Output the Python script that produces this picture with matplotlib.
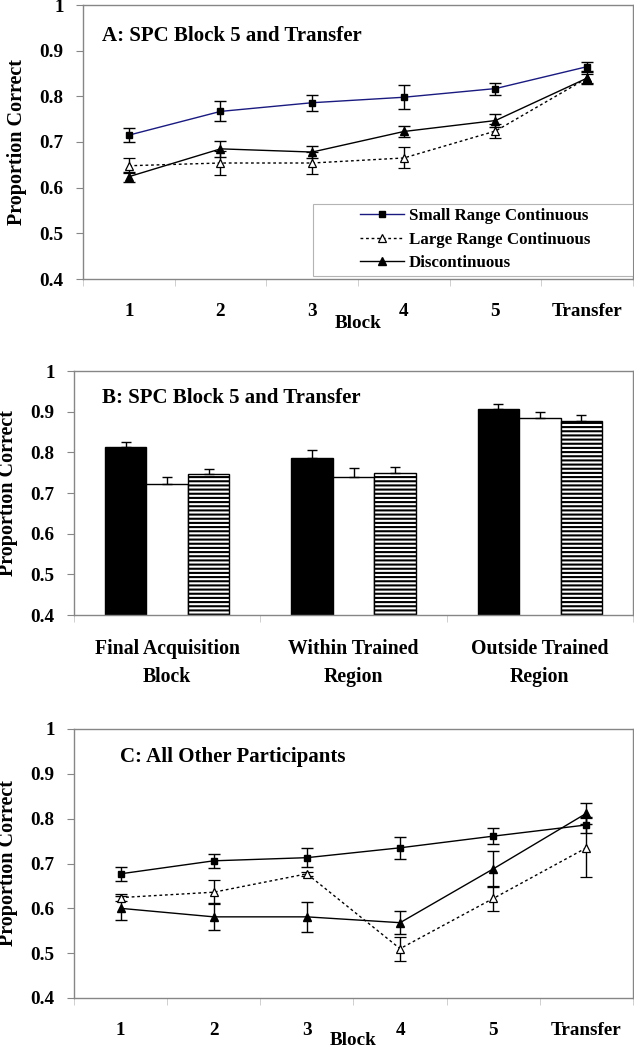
import matplotlib
matplotlib.use('Agg')
import matplotlib.pyplot as plt
import numpy as np
from matplotlib.patches import Rectangle
from matplotlib.lines import Line2D

plt.rcParams['font.family'] = ['Liberation Serif', 'DejaVu Serif']
plt.rcParams['font.weight'] = 'bold'
plt.rcParams['axes.labelweight'] = 'bold'
plt.rcParams['hatch.linewidth'] = 1.5

# panel A: SPC participants, line chart over blocks
blocks = ['1', '2', '3', '4', '5', 'Transfer']
small_a = [0.715, 0.767, 0.786, 0.798, 0.817, 0.865]
small_a_err = [0.015, 0.022, 0.018, 0.026, 0.013, 0.010]
large_a = [0.648, 0.654, 0.654, 0.665, 0.724, 0.840]
large_a_err = [0.016, 0.027, 0.025, 0.023, 0.016, 0.010]
disc_a = [0.624, 0.685, 0.678, 0.723, 0.747, 0.840]
disc_a_err = [0.011, 0.017, 0.013, 0.012, 0.014, 0.013]

# panel B: bar chart, final block vs transfer regions
regions = ['Final Acquisition\nBlock', 'Within Trained\nRegion', 'Outside Trained\nRegion']
small_b = [0.813, 0.785, 0.907]
small_b_err = [0.013, 0.020, 0.011]
large_b = [0.721, 0.739, 0.885]
large_b_err = [0.019, 0.023, 0.015]
disc_b = [0.746, 0.749, 0.878]
disc_b_err = [0.013, 0.016, 0.014]

# panel C: all other participants
small_c = [0.677, 0.706, 0.713, 0.735, 0.761, 0.786]
small_c_err = [0.016, 0.015, 0.021, 0.025, 0.018, 0.017]
large_c = [0.624, 0.636, 0.677, 0.510, 0.622, 0.735]
large_c_err = [0.007, 0.027, 0.004, 0.027, 0.028, 0.066]
disc_c = [0.600, 0.581, 0.581, 0.568, 0.688, 0.812]
disc_c_err = [0.027, 0.030, 0.034, 0.025, 0.040, 0.024]

legend_names = ['Small Range Continuous', 'Large Range Continuous', 'Discontinuous']
yticks = [0.4, 0.5, 0.6, 0.7, 0.8, 0.9, 1.0]
ytick_labels = ['0.4', '0.5', '0.6', '0.7', '0.8', '0.9', '1']

W, H = 634, 1047
GREY = '#868686'
NAVY = '#1a1a80'
DOTS = (0, (2, 2))


def px_axes(fig, left, top, right, bottom):
    return fig.add_axes([left / W, 1 - bottom / H, (right - left) / W, (bottom - top) / H])


def style_axes(ax, ncat, labels, label_size=13.8, spacing=1.2):
    ax.set_ylim(0.4, 1.0)
    ax.set_xlim(-0.5, ncat - 0.5)
    for s in ax.spines.values():
        s.set_color(GREY)
        s.set_linewidth(1.0)
    ax.set_yticks(yticks)
    ax.set_yticklabels(ytick_labels, fontsize=13.8)
    ax.tick_params(axis='y', direction='out', length=5, color=GREY, pad=9)
    ax.set_xticks(np.arange(ncat))
    ax.set_xticklabels(labels, fontsize=label_size, linespacing=spacing)
    ax.tick_params(axis='x', which='major', length=0, pad=17)
    ax.set_xticks(np.arange(ncat + 1) - 0.5, minor=True)
    ax.tick_params(axis='x', which='minor', direction='out', length=5, color='#c8c8c8')
    ax.set_ylabel('Proportion Correct', fontsize=14.5, fontweight='bold')


def line_panel(ax, small, small_err, large, large_err, disc, disc_err, small_color):
    x = np.arange(len(blocks))
    ebkw = dict(ecolor='black', elinewidth=1.0, capsize=4, capthick=1.0)
    ax.errorbar(x, large, yerr=large_err, color='black', lw=1.0, ls=DOTS,
                marker='^', ms=6, mfc='white', mec='black', mew=0.9, **ebkw)
    ax.errorbar(x, disc, yerr=disc_err, color='black', lw=1.0, marker='^', ms=6,
                mfc='black', mec='black', **ebkw)
    ax.errorbar(x, small, yerr=small_err, color=small_color, lw=1.0, marker='s', ms=5,
                mfc='black', mec='black', **ebkw)
    style_axes(ax, len(blocks), blocks)


fig = plt.figure(figsize=(W / 100, H / 100), dpi=100)

# ---- A
ax_a = px_axes(fig, 83, 5, 633, 279)
line_panel(ax_a, small_a, small_a_err, large_a, large_a_err, disc_a, disc_a_err, NAVY)
ax_a.yaxis.set_label_coords((27 - 83) / 550, 0.5)
ax_a.text(0.0345, (279 - 41) / 274, 'A: SPC Block 5 and Transfer', transform=ax_a.transAxes,
          fontsize=15, ha='left', va='baseline')
ax_a.text(0.5, (279 - 328) / 274, 'Block', transform=ax_a.transAxes, fontsize=13.8,
          ha='center', va='baseline')
ax_a.add_patch(Rectangle((0.418, 0.011), 0.582, 0.263, transform=ax_a.transAxes,
                         fc='white', ec='#b4b4b4', lw=0.8, zorder=4))
handles = [
    Line2D([], [], color=NAVY, lw=1.0, marker='s', ms=5, mfc='black', mec='black'),
    Line2D([], [], color='black', lw=1.0, ls=DOTS, marker='^', ms=6, mfc='white', mec='black', mew=0.9),
    Line2D([], [], color='black', lw=1.0, marker='^', ms=6, mfc='black', mec='black'),
]
ax_a.legend(handles, legend_names, loc='center left',
            bbox_to_anchor=(0.5036, 0.144), frameon=False, fontsize=12.2, numpoints=1,
            handlelength=2.6, handletextpad=0.3, labelspacing=0.45, borderpad=0,
            borderaxespad=0)

# ---- B
ax_b = px_axes(fig, 74, 371, 633, 615)
xb = np.arange(len(regions))
bw = 1 / 4.5
zero = [0, 0, 0]
err_kw = dict(ecolor='black', elinewidth=1, capsize=3.5, capthick=1)
ax_b.bar(xb - bw, small_b, bw, color='black', edgecolor='black', lw=1,
         yerr=[zero, small_b_err], error_kw=err_kw)
ax_b.bar(xb, large_b, bw, color='white', edgecolor='black', lw=1,
         yerr=[zero, large_b_err], error_kw=err_kw)
ax_b.bar(xb + bw, disc_b, bw, color='white', edgecolor='black', lw=1, hatch='----',
         yerr=[zero, disc_b_err], error_kw=err_kw)
style_axes(ax_b, len(regions), regions, label_size=14.2, spacing=1.55)
ax_b.yaxis.set_label_coords((18 - 74) / 559, 0.5)
ax_b.text((102 - 74) / 559, (615 - 403) / 244, 'B: SPC Block 5 and Transfer',
          transform=ax_b.transAxes, fontsize=15, ha='left', va='baseline')

# ---- C
ax_c = px_axes(fig, 74, 729, 633, 998)
line_panel(ax_c, small_c, small_c_err, large_c, large_c_err, disc_c, disc_c_err, 'black')
ax_c.yaxis.set_label_coords((18 - 74) / 559, 0.5)
ax_c.text((120 - 74) / 559, (998 - 762) / 269, 'C: All Other Participants',
          transform=ax_c.transAxes, fontsize=15, ha='left', va='baseline')
ax_c.text(0.5, (998 - 1045) / 269, 'Block', transform=ax_c.transAxes, fontsize=13.8,
          ha='center', va='baseline')

fig.savefig('out.png', dpi=100)
